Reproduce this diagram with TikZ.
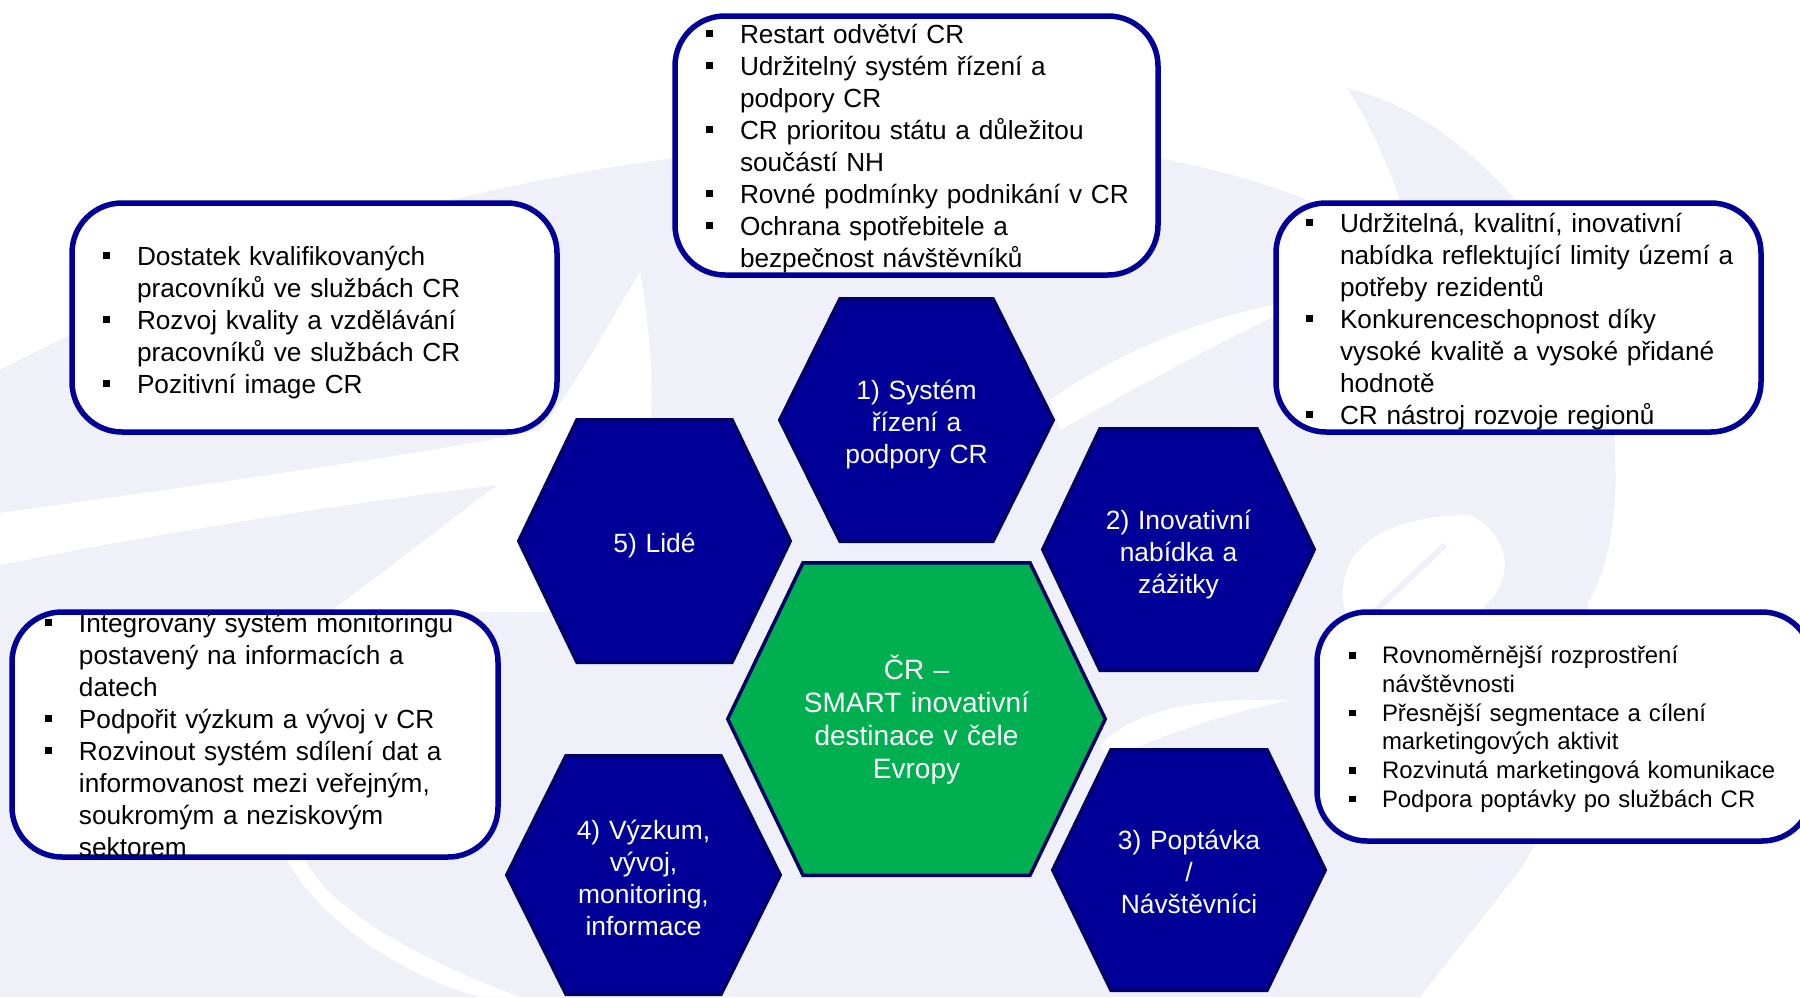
\documentclass[tikz,border=0pt]{standalone}
\usepackage{fontspec}
\setmainfont{Liberation Sans}
\definecolor{navy}{RGB}{0,0,153}
\definecolor{navyedge}{RGB}{0,0,102}
\definecolor{hexgreen}{RGB}{0,176,80}
\definecolor{lav}{RGB}{239,240,248}
\newcommand\mybul{\makebox[34pt][l]{\rule[6pt]{7pt}{7pt}}}
\newcommand\mycnt{\hspace*{34pt}}
\newcommand\mysbul{\makebox[33pt][l]{\rule[5pt]{6.5pt}{6.5pt}}}
\newcommand\myscnt{\hspace*{33pt}}
\newcommand\mystrut{\rule{0pt}{26pt}}
\newcommand\mystrutg{\rule{0pt}{28pt}}
\begin{document}
\begin{tikzpicture}[x=1pt,y=-1pt,
  boxs/.style={draw=navy, line width=5.5pt, fill=white, rounded corners=50pt},
  hexs/.style={fill=navy, draw=navyedge, line width=3.5pt, line join=miter},
  greens/.style={fill=hexgreen, draw=navyedge, line width=3.5pt, line join=miter},
  btext/.style={anchor=north west, inner sep=0pt, outer sep=0pt, align=left, text width=700pt, font=\fontsize{26.2}{32}\selectfont},
  bstext/.style={btext, font=\fontsize{23.9}{28.7}\selectfont},
  htext/.style={anchor=north, inner sep=0pt, outer sep=0pt, align=center, text width=300pt, text=white, font=\fontsize{26.4}{32}\selectfont},
  gtext/.style={htext, font=\fontsize{28}{33}\selectfont}]
\useasboundingbox (0,0) rectangle (1800,997);
\clip (0,0) rectangle (1800,997);
\fill[white] (0,0) rectangle (1800,997);
% ---- watermark ----
\fill[lav] (0,370) .. controls (250,240) and (550,150) .. (900,140) .. controls (1100,135) and (1250,170) .. (1340,215) -- (1480,330) .. controls (1600,450) and (1630,700) .. (1520,870) -- (1420,997) -- (0,997) -- cycle;
\fill[lav] (1347,88) .. controls (1480,120) and (1610,280) .. (1615,450) .. controls (1620,540) and (1600,600) .. (1560,640) -- (1450,600) .. controls (1460,400) and (1420,200) .. (1347,88) -- cycle;
\fill[white] (0,513) .. controls (200,485) and (420,455) .. (540,430) .. controls (580,380) and (610,320) .. (640,272) .. controls (650,330) and (660,420) .. (640,500) -- (560,612) -- (330,612) .. controls (400,560) and (450,520) .. (498,485) .. controls (330,505) and (150,535) .. (0,565) -- cycle;
\fill[white] (1050,400) .. controls (1120,350) and (1220,310) .. (1320,296) .. controls (1240,330) and (1150,380) .. (1060,430) -- cycle;
\fill[white] (1100,745) .. controls (1140,705) and (1210,698) .. (1290,700) .. controls (1220,715) and (1160,735) .. (1110,760) -- cycle;
\fill[white] (1345,612) .. controls (1330,540) and (1400,515) .. (1470,515) .. controls (1520,540) and (1515,600) .. (1460,620) -- cycle;
\draw[lav, line width=6pt] (1360,625) -- (1445,545);
\fill[white] (287,860) .. controls (320,920) and (400,975) .. (480,997) -- (520,997) .. controls (420,960) and (330,910) .. (305,860) -- cycle;
% ---- boxes ----
\draw[boxs] (675,16) rectangle (1158,275);
\draw[boxs] (72,203) rectangle (557,432);
\draw[boxs] (1276,203) rectangle (1761,432);
\draw[boxs] (12,612) rectangle (498,857);
\draw[boxs] (1317,612) rectangle (1812,841);
% ---- hexagons ----
\draw[hexs] (779.75,420) -- (840,298.75) -- (993,298.75) -- (1053.25,420) -- (993,541.25) -- (840,541.25) -- cycle;
\draw[hexs] (518.75,541) -- (577,419.75) -- (732,419.75) -- (790.25,541) -- (732,662.25) -- (577,662.25) -- cycle;
\draw[hexs] (1042.75,549.5) -- (1100,428.75) -- (1257,428.75) -- (1314.25,549.5) -- (1257,670.25) -- (1100,670.25) -- cycle;
\draw[hexs] (1052.75,870) -- (1111,749.75) -- (1267,749.75) -- (1325.25,870) -- (1267,990.25) -- (1111,990.25) -- cycle;
\draw[hexs] (506.75,875) -- (566,755.75) -- (721,755.75) -- (780.25,875) -- (721,994.25) -- (566,994.25) -- cycle;
\draw[greens] (727.75,719) -- (803,562.75) -- (1030,562.75) -- (1105.25,719) -- (1030,875.25) -- (803,875.25) -- cycle;
% ---- hexagon texts ----
\node[htext] (h1) at (916.5,373) {\mystrut 1) Systém\\ řízení a\\ podpory CR};
\node[htext] (h5) at (654.5,526) {\mystrut 5) Lidé};
\node[htext] (h2) at (1178.5,503) {\mystrut 2) Inovativní\\ nabídka a\\ zážitky};
\node[htext] (h3) at (1189,823) {\mystrut 3) Poptávka\\ /\\ Návštěvníci};
\node[htext] (h4) at (643.5,813) {\mystrut 4) Výzkum,\\ vývoj,\\ monitoring,\\ informace};
\node[gtext] (hc) at (916.5,651) {\mystrutg ČR –\\ SMART inovativní\\ destinace v čele\\ Evropy};
% ---- box texts ----
\node[btext] (ttop) at (706,17.3) {\mystrut\mybul Restart odvětví CR\\
\mybul Udržitelný systém řízení a\\
\mycnt podpory CR\\
\mybul CR prioritou státu a důležitou\\
\mycnt součástí NH\\
\mybul Rovné podmínky podnikání v CR\\
\mybul Ochrana spotřebitele a\\
\mycnt bezpečnost návštěvníků};
\node[btext] (tleft) at (103,239) {\mystrut\mybul Dostatek kvalifikovaných\\
\mycnt pracovníků ve službách CR\\
\mybul Rozvoj kvality a vzdělávání\\
\mycnt pracovníků ve službách CR\\
\mybul Pozitivní image CR};
\node[btext] (tright) at (1306,206) {\mystrut\mybul Udržitelná, kvalitní, inovativní\\
\mycnt nabídka reflektující limity území a\\
\mycnt potřeby rezidentů\\
\mybul Konkurenceschopnost díky\\
\mycnt vysoké kvalitě a vysoké přidané\\
\mycnt hodnotě\\
\mybul CR nástroj rozvoje regionů};
\node[btext] (tbl) at (45,606) {\mystrut\mybul Integrovaný systém monitoringu\\
\mycnt postavený na informacích a\\
\mycnt datech\\
\mybul Podpořit výzkum a vývoj v CR\\
\mybul Rozvinout systém sdílení dat a\\
\mycnt informovanost mezi veřejným,\\
\mycnt soukromým a neziskovým\\
\mycnt sektorem};
\node[bstext] (tbr) at (1349,637.7) {\mystrut\mysbul Rovnoměrnější rozprostření\\
\myscnt návštěvnosti\\
\mysbul Přesnější segmentace a cílení\\
\myscnt marketingových aktivit\\
\mysbul Rozvinutá marketingová komunikace\\
\mysbul Podpora poptávky po službách CR};
\end{tikzpicture}
\end{document}
